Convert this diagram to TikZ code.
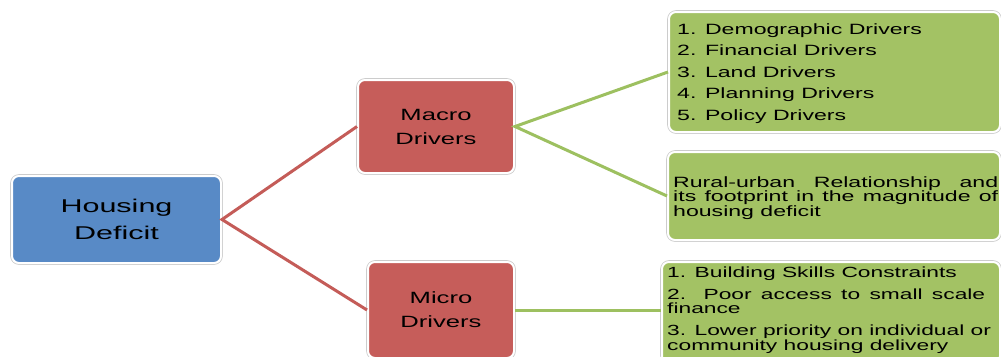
\documentclass[tikz,border=0pt]{standalone}
\usepackage{fontspec}
\setmainfont{Liberation Sans}
\newfontfamily\hfont[FakeStretch=1.65]{Liberation Sans}
\newfontfamily\mfont[FakeStretch=1.57]{Liberation Sans}
\newfontfamily\gfont[FakeStretch=1.55]{Liberation Sans}
\definecolor{hblue}{HTML}{588AC6}
\definecolor{hred}{HTML}{C65D5A}
\definecolor{hgreen}{HTML}{A3C264}
\definecolor{lred}{HTML}{C45C58}
\definecolor{lgreen}{HTML}{9DC060}
\tikzset{
  boxshape/.style={rectangle, rounded corners=7pt, draw=white, line width=2pt,
    inner sep=0pt, align=center, text=black,
    preaction={draw=black!20, line width=3.6pt}},
  hbox/.style={boxshape, fill=hblue, font=\hfont\fontsize{18.5}{27}\selectfont},
  mbox/.style={boxshape, fill=hred, font=\mfont\fontsize{16.3}{24}\selectfont},
  gbox/.style={boxshape, fill=hgreen},
  gtext/.style={inner sep=0pt, align=left, anchor=west, text=black},
  redline/.style={draw=lred, line width=3pt},
  greenline/.style={draw=lgreen, line width=3pt},
}
\begin{document}
\begin{tikzpicture}[x=1pt,y=-1pt]
\useasboundingbox (0,0) rectangle (1001,356);
\clip (0,0) rectangle (1001,356);
\node[hbox, minimum width=209pt, minimum height=87pt] (hd) at (116.5,219.5) {Housing\\Deficit};
\node[mbox, minimum width=156pt, minimum height=93pt] (macro) at (436,126.5) {Macro\\Drivers};
\node[mbox, minimum width=146pt, minimum height=96pt] (micro) at (441,310) {Micro\\Drivers};
\node[gbox, minimum width=331pt, minimum height=120pt] (g1) at (834.5,72) {};
\node[gbox, minimum width=332pt, minimum height=88pt] (g2) at (834,196) {};
\node[gbox, minimum width=338pt, minimum height=101pt] (g3) at (831,312.5) {};
\draw[redline] (macro.west) -- (hd.east) -- (micro.west);
\draw[greenline] (g1.west) -- (macro.east) -- (g2.west);
\draw[greenline] (micro.east) -- (micro.east -| g3.west);
\node[gtext, font=\gfont\fontsize{14.9}{21.5}\selectfont] (t1) at (677,73.5)
  {1. Demographic Drivers\\2. Financial Drivers\\3. Land Drivers\\4. Planning Drivers\\5. Policy Drivers};
\node[gtext, font=\gfont\fontsize{14.9}{14.5}\selectfont] (t2) at (673,198)
  {\makebox[325pt][s]{Rural-urban Relationship and}\\\makebox[325pt][s]{its footprint in the magnitude of}\\housing deficit};
\node[gtext, font=\gfont\fontsize{14.7}{14.5}\selectfont] (t3) at (667,310)
  {1. Building Skills Constraints\\[7.5pt]\makebox[318pt][s]{2. Poor access to small scale}\\finance\\[7.5pt]3. Lower priority on individual or\\community housing delivery};
\end{tikzpicture}
\end{document}
